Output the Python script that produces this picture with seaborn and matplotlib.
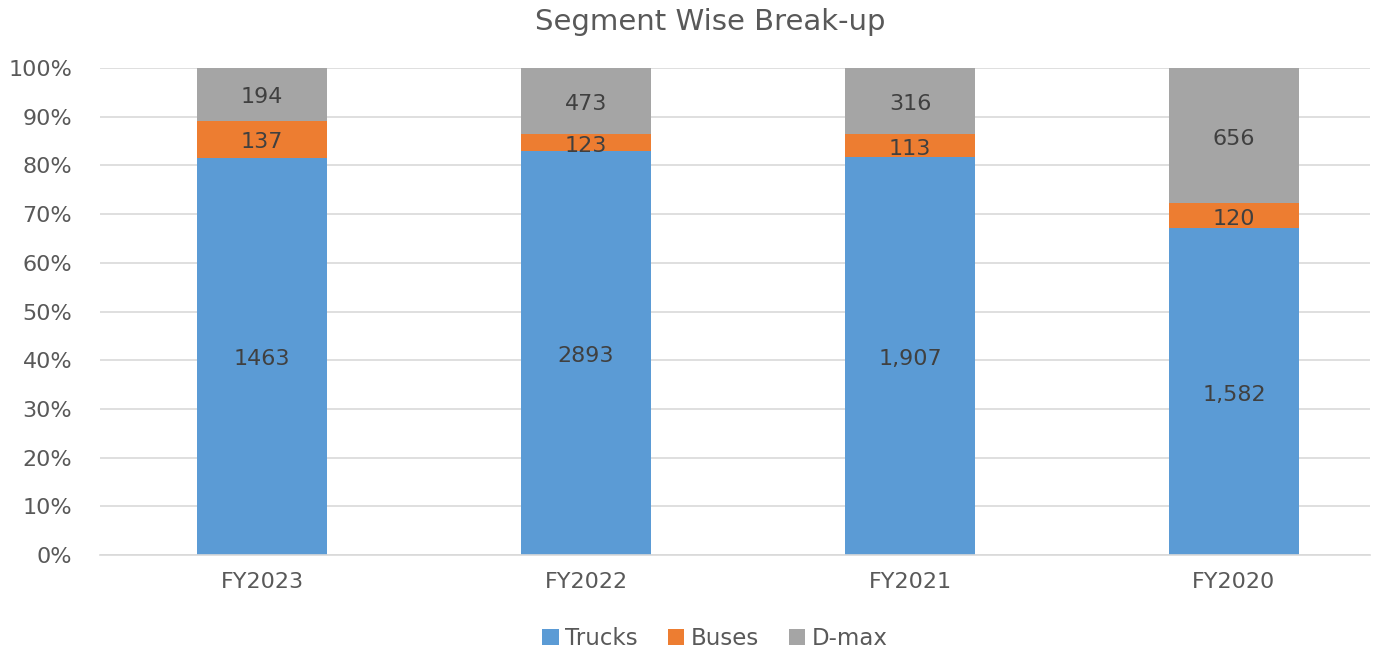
import pandas as pd
import numpy as np
import seaborn as sns
import matplotlib.pyplot as plt

# data
years = ['FY2023', 'FY2022', 'FY2021', 'FY2020']
trucks = [1463, 2893, 1907, 1582]
buses = [137, 123, 113, 120]
dmax = [194, 473, 316, 656]
truck_labels = ['1463', '2893', '1,907', '1,582']

segments = ['Trucks', 'Buses', 'D-max']
colors = ['#5B9BD5', '#ED7D31', '#A5A5A5']

df = pd.DataFrame({'year': years, 'Trucks': trucks, 'Buses': buses, 'D-max': dmax})
total = df[segments].sum(axis=1)
pct = df[segments].div(total, axis=0) * 100

sns.set_style('white')
plt.rcParams['font.family'] = ['DejaVu Sans']

fig = plt.figure(figsize=(13.75, 6.53), dpi=100)
ax = fig.add_axes([100 / 1375, 1 - 555 / 653, 1270 / 1375, 487 / 653])

# gridlines behind bars
ax.set_axisbelow(True)
ax.yaxis.grid(True, color='#D9D9D9', linewidth=1.2)

bottom = np.zeros(len(years))
for seg, col in zip(segments, colors):
    sns.barplot(x=df['year'], y=pct[seg], color=col, width=0.4, bottom=bottom,
                ax=ax, label=seg, saturation=1, linewidth=0)
    bottom = bottom + pct[seg].values

# data labels in middle of segments
bottom = np.zeros(len(years))
for seg in segments:
    for i in range(len(years)):
        if seg == 'Trucks':
            txt = truck_labels[i]
        else:
            txt = str(df[seg][i])
        ax.text(i, bottom[i] + pct[seg][i] / 2 - 0.6, txt, ha='center', va='center',
                fontsize=16, color='#404040')
    bottom = bottom + pct[seg].values

ax.set_xlim(-0.5, 3.42)
ax.set_ylim(0, 100)
ax.set_yticks(range(0, 101, 10))
ax.set_yticklabels([f'{v}%' for v in range(0, 101, 10)])
ax.tick_params(axis='both', length=0, labelsize=16, labelcolor='#595959')
ax.tick_params(axis='x', pad=12)
ax.tick_params(axis='y', pad=20)
ax.set_xlabel('')
ax.set_ylabel('')
for s in ['top', 'right', 'left']:
    ax.spines[s].set_visible(False)
ax.spines['bottom'].set_color('#D9D9D9')
ax.spines['bottom'].set_linewidth(1.2)

fig.suptitle('Segment Wise Break-up', x=710 / 1375, y=0.988, fontsize=21, color='#595959')

ax.legend(loc='upper center', bbox_to_anchor=(0.5 - 20 / 1270, -0.105), ncol=3, frameon=False,
          fontsize=16.5, labelcolor='#595959', handlelength=0.7, handleheight=0.7,
          handletextpad=0.3, columnspacing=1.3)

plt.savefig('out.png', dpi=100)
